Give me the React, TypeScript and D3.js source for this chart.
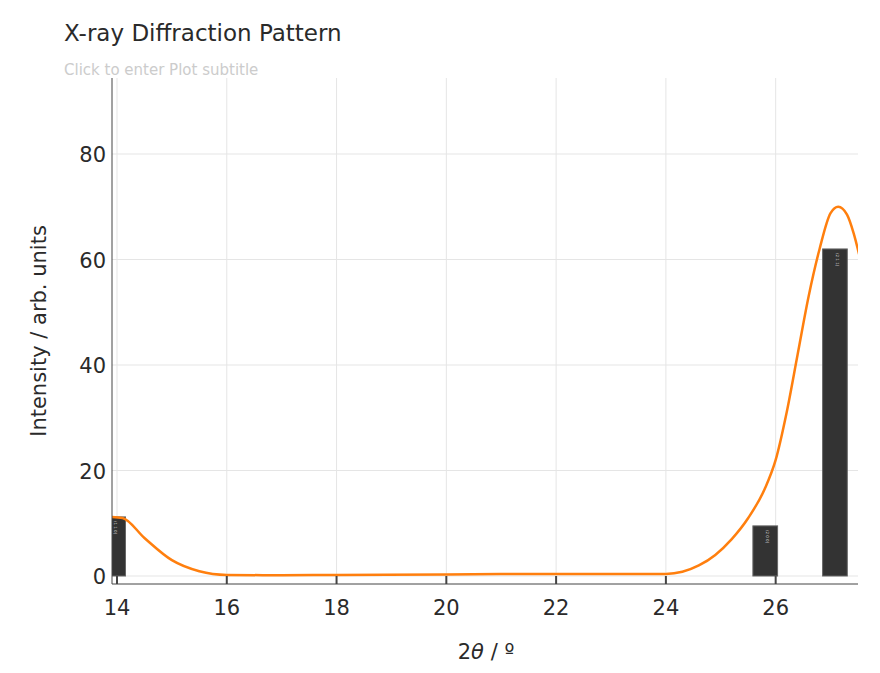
import React from 'react';
import * as d3 from 'd3';

const curveX = [13.9, 14.1, 14.5, 15, 15.5, 16, 17, 18, 20, 22, 24, 24.3, 24.6, 24.9, 25.2, 25.5, 25.8, 26.0, 26.2, 26.4, 26.6, 26.8, 27.0, 27.14, 27.3, 27.42, 27.52];
const curveY = [11.2, 11, 7.2, 3, 0.9, 0.2, 0.15, 0.2, 0.3, 0.4, 0.4, 0.8, 2.0, 4.0, 7, 11, 16.5, 22, 31, 42, 53, 62, 68.8, 70, 68.5, 65, 61];
const barX = [13.93, 25.81, 27.08];
const barY = [11.2, 9.5, 62];
const barLabels = ['(1 1 0)', '(2 0 0)', '(2 1 1)'];
const xTicks = [14, 16, 18, 20, 22, 24, 26];
const yTicks = [0, 20, 40, 60, 80];

export default function App() {
  const W = 880, H = 673;
  const m = { left: 112, right: 858, top: 78, bottom: 584 };
  const x = d3.scaleLinear().domain([13.909, 27.5]).range([m.left, m.right]);
  const y = d3.scaleLinear().domain([0, 80]).range([576, 154]);
  const pts = curveX.map((v, i) => [v, curveY[i]] as [number, number]);
  const line = d3.line<[number, number]>().x(d => x(d[0])).y(d => y(d[1])).curve(d3.curveMonotoneX);
  const bw = 0.45;
  const font = '"DejaVu Sans", sans-serif';
  return (
    <svg width={W} height={H} style={{ position: 'absolute', left: 0, top: 0, fontFamily: font }}>
      <defs>
        <clipPath id="plot"><rect x={m.left} y={m.top} width={m.right - m.left} height={m.bottom - m.top} /></clipPath>
      </defs>
      <rect width={W} height={H} fill="#fff" />
      <text x={64} y={41} fontSize={23} fill="#2a2a2a">X-ray Diffraction Pattern</text>
      <text x={64} y={75} fontSize={15} fill="#cccccc">Click to enter Plot subtitle</text>
      {xTicks.map(t => <line key={t} x1={x(t)} x2={x(t)} y1={m.top} y2={m.bottom} stroke="#e5e5e5" strokeWidth={1} />)}
      {yTicks.map(t => <line key={t} x1={m.left} x2={m.right} y1={y(t)} y2={y(t)} stroke="#e5e5e5" strokeWidth={1} />)}
      <g clipPath="url(#plot)">
        {barX.map((b, i) => (
          <g key={i}>
            <rect x={x(b - bw / 2)} y={y(barY[i])} width={x(b + bw / 2) - x(b - bw / 2)} height={y(0) - y(barY[i])} fill="#333" stroke="#666" strokeWidth={1} />
            <text transform={`translate(${x(b) + 1},${y(barY[i]) + 4}) rotate(90)`} fontSize={4} fill="#ddd">{barLabels[i]}</text>
          </g>
        ))}
        <path d={line(pts) ?? ''} fill="none" stroke="#ff7f0e" strokeWidth={2.5} />
      </g>
      <line x1={m.left} x2={m.right} y1={m.bottom} y2={m.bottom} stroke="#444" />
      <line x1={m.left} x2={m.left} y1={m.top} y2={m.bottom} stroke="#444" />
      {xTicks.map(t => (
        <g key={t}>
          <line x1={x(t)} x2={x(t)} y1={m.bottom} y2={m.bottom - 8} stroke="#444" strokeWidth={2} />
          <text x={x(t)} y={615} fontSize={21} textAnchor="middle" fill="#2a2a2a">{t}</text>
        </g>
      ))}
      {yTicks.map(t => (
        <text key={t} x={106} y={y(t) + 8} fontSize={21} textAnchor="end" fill="#2a2a2a">{t}</text>
      ))}
      <text transform="translate(46,331) rotate(-90)" fontSize={21} textAnchor="middle" fill="#2a2a2a">Intensity / arb. units</text>
      <text x={486} y={659} fontSize={21} textAnchor="middle" fill="#2a2a2a">2<tspan fontStyle="italic">θ</tspan> / º</text>
    </svg>
  );
}
